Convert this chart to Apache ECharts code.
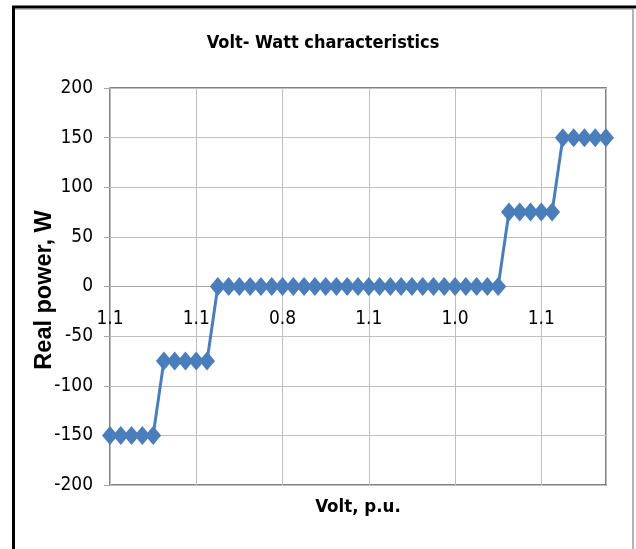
<!DOCTYPE html>
<html>
<head>
<meta charset="utf-8">
<script src="https://cdn.jsdelivr.net/npm/echarts@6/dist/echarts.min.js"></script>
<style>
html,body{margin:0;padding:0;background:#fff;}
#chart{width:636px;height:549px;}
</style>
</head>
<body>
<div id="chart"></div>
<script>
// Category labels (Volt, p.u.) - only every 8th label is printed in the reference
const categories = [
  '1.1','','','','','','','',
  '1.1','','','','','','','',
  '0.8','','','','','','','',
  '1.1','','','','','','','',
  '1.0','','','','','','','',
  '1.1','','','','','',''
];
// Real power, W
const realPower = [
  -150,-150,-150,-150,-150,
  -75,-75,-75,-75,-75,
  0,0,0,0,0,0,0,0,0,0,0,0,0,0,0,0,0,0,0,0,0,0,0,0,0,0,0,
  75,75,75,75,75,
  150,150,150,150,150
];
const yTicks = { min: -200, max: 200, step: 50 };
const titleText = 'Volt- Watt characteristics';
const xName = 'Volt, p.u.';
const yName = 'Real power, W';

const COND = "'Liberation Sans Narrow','DejaVu Sans Condensed',Arial,sans-serif";
const chart = echarts.init(document.getElementById('chart'), null, {renderer:'canvas'});
chart.setOption({
  backgroundColor: '#ffffff',
  animation: false,
  grid: {
    left: 110, top: 88, width: 496, height: 397,
    show: true, borderColor: '#595959', borderWidth: 1.5,
    containLabel: false, outerBoundsMode: 'none'
  },
  xAxis: {
    type: 'category',
    data: categories,
    boundaryGap: false,
    offset: -198.5,
    axisLine: { show: true, onZero: false, lineStyle: { color: '#a6a6a6', width: 1 } },
    axisTick: { show: false },
    axisLabel: { interval: 0, margin: 23, color: '#000', fontSize: 19, fontFamily: COND },
    splitLine: { show: true, interval: 7, lineStyle: { color: '#bfbfbf', width: 1 } }
  },
  yAxis: {
    type: 'value',
    min: yTicks.min, max: yTicks.max, interval: yTicks.step,
    axisLine: { show: true, onZero: false, lineStyle: { color: '#bfbfbf', width: 1 } },
    axisTick: { show: true, length: 6, lineStyle: { color: '#a6a6a6' } },
    axisLabel: { margin: 17, color: '#000', fontSize: 19, fontFamily: COND },
    splitLine: { show: true, lineStyle: { color: '#bfbfbf', width: 1 } }
  },
  series: [{
    type: 'line',
    data: realPower,
    symbol: 'diamond',
    symbolSize: [16, 19],
    itemStyle: { color: '#4a7ebb' },
    lineStyle: { color: '#4a7ebb', width: 3 },
    z: 5
  }],
  graphic: [
    { type: 'line', shape: { x1: 13.5, y1: 7, x2: 13.5, y2: 560 }, style: { stroke: '#000', lineWidth: 3 } },
    { type: 'line', shape: { x1: 12, y1: 7, x2: 640, y2: 7 }, style: { stroke: '#000', lineWidth: 3 } },
    { type: 'line', shape: { x1: 15, y1: 9.5, x2: 633, y2: 9.5 }, style: { stroke: '#bfbfbf', lineWidth: 1 } },
    { type: 'line', shape: { x1: 633, y1: 9, x2: 633, y2: 560 }, style: { stroke: '#9a9a9a', lineWidth: 1.5 } },
    { type: 'text', x: 323, y: 43, style: { text: titleText, textAlign: 'center', textVerticalAlign: 'middle', fill: '#000', font: 'bold 18px ' + COND } },
    { type: 'text', x: 358, y: 507, style: { text: xName, textAlign: 'center', textVerticalAlign: 'middle', fill: '#000', font: 'bold 18.5px ' + COND } },
    { type: 'text', x: 45, y: 290, rotation: Math.PI / 2, style: { text: yName, textAlign: 'center', textVerticalAlign: 'middle', fill: '#000', font: "bold 23.5px 'Liberation Sans', Arial, sans-serif" } }
  ]
});
</script>
</body>
</html>
